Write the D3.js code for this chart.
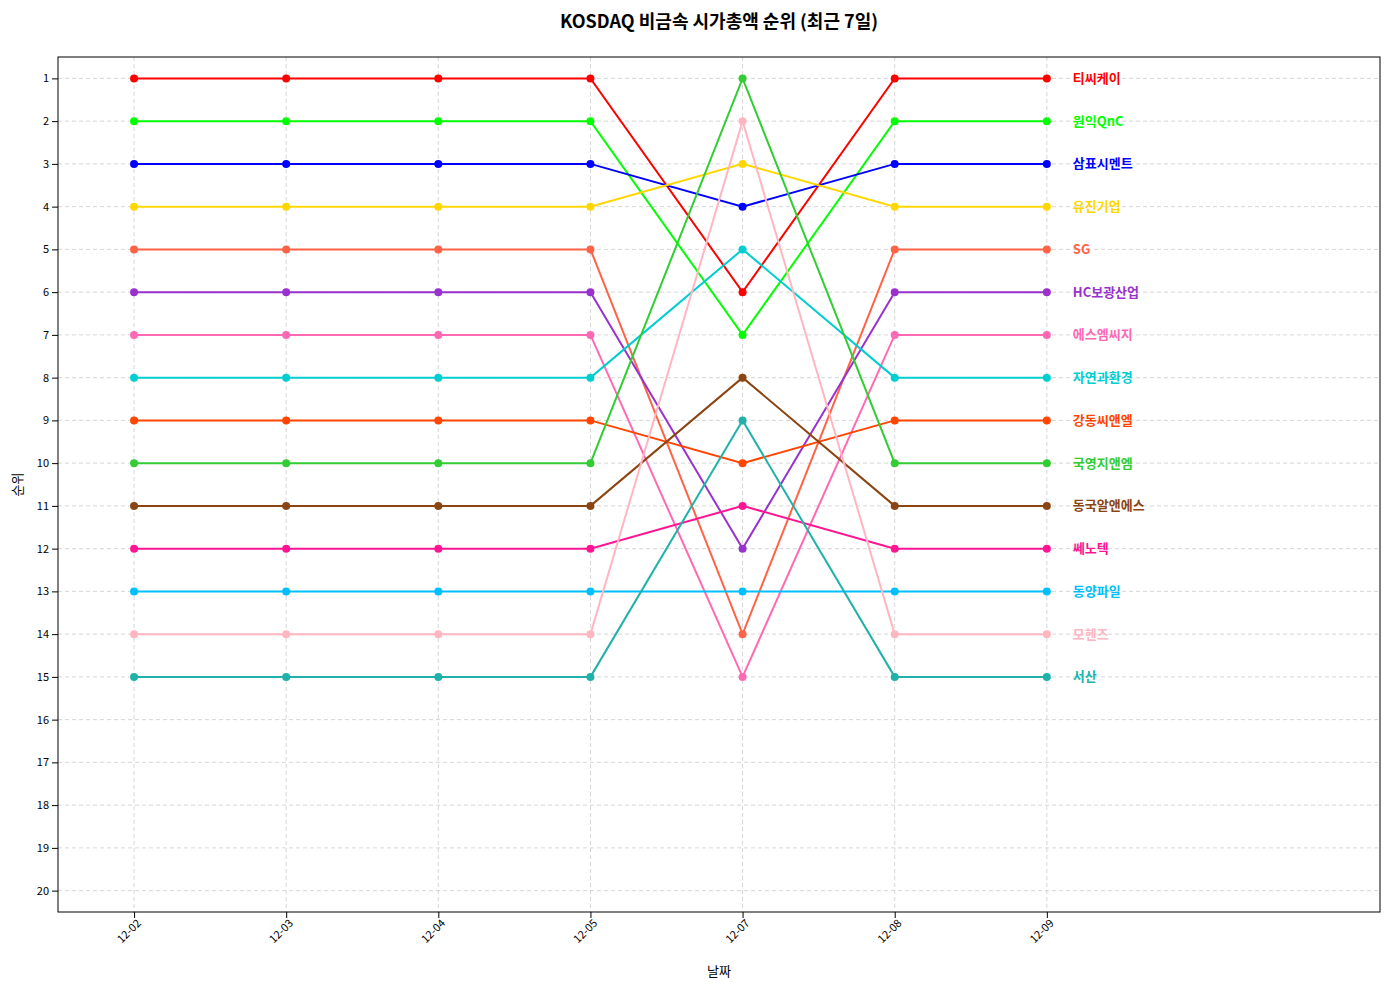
<!DOCTYPE html>
<html><head><meta charset="utf-8">
<script src="https://cdn.jsdelivr.net/npm/d3@7"></script>
<style>body{margin:0;background:#fff}text{font-family:"Noto Sans CJK KR","Noto Sans",sans-serif}</style>
</head><body><svg width="1389" height="990"></svg>
<script>
const dates = ["12-02","12-03","12-04","12-05","12-07","12-08","12-09"];
const names = ["티씨케이","원익QnC","삼표시멘트","유진기업","SG","HC보광산업","에스엠씨지","자연과환경","강동씨앤엘","국영지앤엠","동국알앤에스","쎄노텍","동양파일","모헨즈","서산"];
const ranks = [
  [1,1,1,1,6,1,1],[2,2,2,2,7,2,2],[3,3,3,3,4,3,3],[4,4,4,4,3,4,4],[5,5,5,5,14,5,5],
  [6,6,6,6,12,6,6],[7,7,7,7,15,7,7],[8,8,8,8,5,8,8],[9,9,9,9,10,9,9],[10,10,10,10,1,10,10],
  [11,11,11,11,8,11,11],[12,12,12,12,11,12,12],[13,13,13,13,13,13,13],[14,14,14,14,2,14,14],[15,15,15,15,9,15,15]];
const colors = ["#ff0000","#00ff00","#0000ff","#ffd700","#ff6347","#9932cc","#ff69b4","#00ced1","#ff4500","#32cd32","#8b4513","#ff1493","#00bfff","#ffb6c1","#20b2aa"];
const yTicks = d3.range(1,21);

const svg = d3.select("svg");
const L=58,R=1380,T=57,B=912;
const x = d3.scaleLinear().domain([-0.5,8.19]).range([L,R]);
const y = d3.scaleLinear().domain([0.5,20.5]).range([T,B]);

const g = svg.append("g");
// grid
g.selectAll(".gy").data(yTicks).join("line").attr("x1",L).attr("x2",R)
  .attr("y1",d=>y(d)).attr("y2",d=>y(d)).attr("stroke","#ccc").attr("stroke-dasharray","4,3").attr("stroke-width",0.8);
g.selectAll(".gx").data(dates).join("line").attr("y1",T).attr("y2",B)
  .attr("x1",(d,i)=>x(i)).attr("x2",(d,i)=>x(i)).attr("stroke","#ccc").attr("stroke-dasharray","4,3").attr("stroke-width",0.8);

const line = d3.line().x((d,i)=>x(i)).y(d=>y(d));
ranks.forEach((r,k)=>{
  const s = svg.append("g");
  s.append("path").attr("d",line(r)).attr("fill","none").attr("stroke",colors[k]).attr("stroke-width",2);
  s.selectAll("circle").data(r).join("circle").attr("cx",(d,i)=>x(i)).attr("cy",d=>y(d)).attr("r",4).attr("fill",colors[k]);
  s.append("text").attr("x",x(dates.length-1)+26).attr("y",y(r[r.length-1])).attr("dy","0.35em")
    .attr("fill",colors[k]).attr("font-weight","bold").attr("font-size",13).text(names[k]);
});

// axes
const ax = svg.append("g").attr("transform",`translate(0,${B})`)
  .call(d3.axisBottom(x).tickValues(d3.range(dates.length)).tickFormat(i=>dates[i]).tickSizeOuter(0));
ax.selectAll("text").attr("font-size",11).attr("text-anchor","end").attr("dx","-0.3em").attr("dy","0.4em")
  .attr("transform","rotate(-45)").attr("fill","#000");
const ay = svg.append("g").attr("transform",`translate(${L},0)`)
  .call(d3.axisLeft(y).tickValues(yTicks).tickSizeOuter(0));
ay.selectAll("text").attr("font-size",11).attr("fill","#000");
svg.selectAll(".domain").remove();
svg.append("rect").attr("x",L).attr("y",T).attr("width",R-L).attr("height",B-T).attr("fill","none").attr("stroke","#000");

svg.append("text").attr("x",(L+R)/2).attr("y",28).attr("text-anchor","middle").attr("font-size",18).attr("font-weight","bold").text("KOSDAQ 비금속 시가총액 순위 (최근 7일)");
svg.append("text").attr("x",(L+R)/2).attr("y",976).attr("text-anchor","middle").attr("font-size",13).text("날짜");
svg.append("text").attr("transform",`translate(22,${(T+B)/2}) rotate(-90)`).attr("text-anchor","middle").attr("font-size",13).text("순위");
</script></body></html>
